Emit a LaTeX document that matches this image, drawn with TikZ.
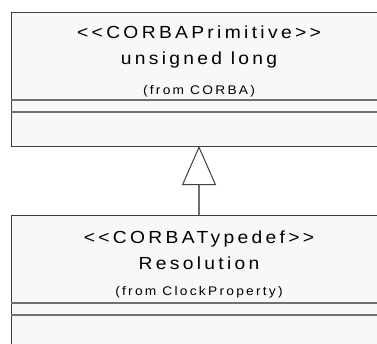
\documentclass[tikz,border=0pt]{standalone}
\usepackage{fontspec}
\setmainfont{Liberation Sans}
\newfontfamily\umlfont[LetterSpace=19,FakeStretch=1.1]{Liberation Sans}
\newfontfamily\umlsmall[LetterSpace=18,FakeStretch=1.1]{Liberation Sans}
\usetikzlibrary{arrows.meta}
\definecolor{boxfill}{HTML}{F8F8F8}
\definecolor{boxline}{HTML}{404040}
\definecolor{sepline}{HTML}{707070}
\begin{document}
\begin{tikzpicture}[x=1pt,y=-1pt,
  classbox/.style={draw=boxline, fill=boxfill, line width=1.3pt, minimum width=420pt, inner sep=0pt, anchor=north west},
  sepdraw/.style={draw=sepline, line width=1.1pt},
  title/.style={anchor=base, inner sep=0pt, font=\umlfont\fontsize{17.5}{20}\selectfont},
  origin/.style={anchor=base, inner sep=0pt, font=\umlsmall\fontsize{12.5}{14}\selectfont},
  gen/.style={draw=sepline, line width=1.2pt, -{Triangle[open, length=39pt, width=34pt, color=boxline, line width=1pt]}}]
\useasboundingbox (0,0) rectangle (377,343);
\clip (0,0) rectangle (377,343);
\fill[white] (0,0) rectangle (377,343);
% superclass
\node[classbox, minimum height=134pt] (sup) at (11,12) {};
\draw[sepdraw] ([yshift=-88pt]sup.north west) -- ([yshift=-88pt]sup.north east);
\draw[sepdraw] ([yshift=-100pt]sup.north west) -- ([yshift=-100pt]sup.north east);
\node[title] (supst) at (199,38) {<\kern.19em<CORBAPrimitive>\kern.19em>};
\node[title] (supname) at (199,64.5) {unsigned long};
\node[origin] (supfrom) at (199,94) {(from CORBA)};
% subclass
\node[classbox, minimum height=200pt] (sub) at (11,215) {};
\draw[sepdraw] ([yshift=-88pt]sub.north west) -- ([yshift=-88pt]sub.north east);
\draw[sepdraw] ([yshift=-100pt]sub.north west) -- ([yshift=-100pt]sub.north east);
\node[title] (subst) at (199,243) {<\kern.19em<CORBATypedef>\kern.19em>};
\node[title] (subname) at (199,269) {Resolution};
\node[origin] (subfrom) at (199,295) {(from ClockProperty)};
% generalization
\coordinate (apex) at (199,146);
\coordinate (foot) at (199,215);
\draw[gen] (foot) -- (apex);
\end{tikzpicture}
\end{document}
